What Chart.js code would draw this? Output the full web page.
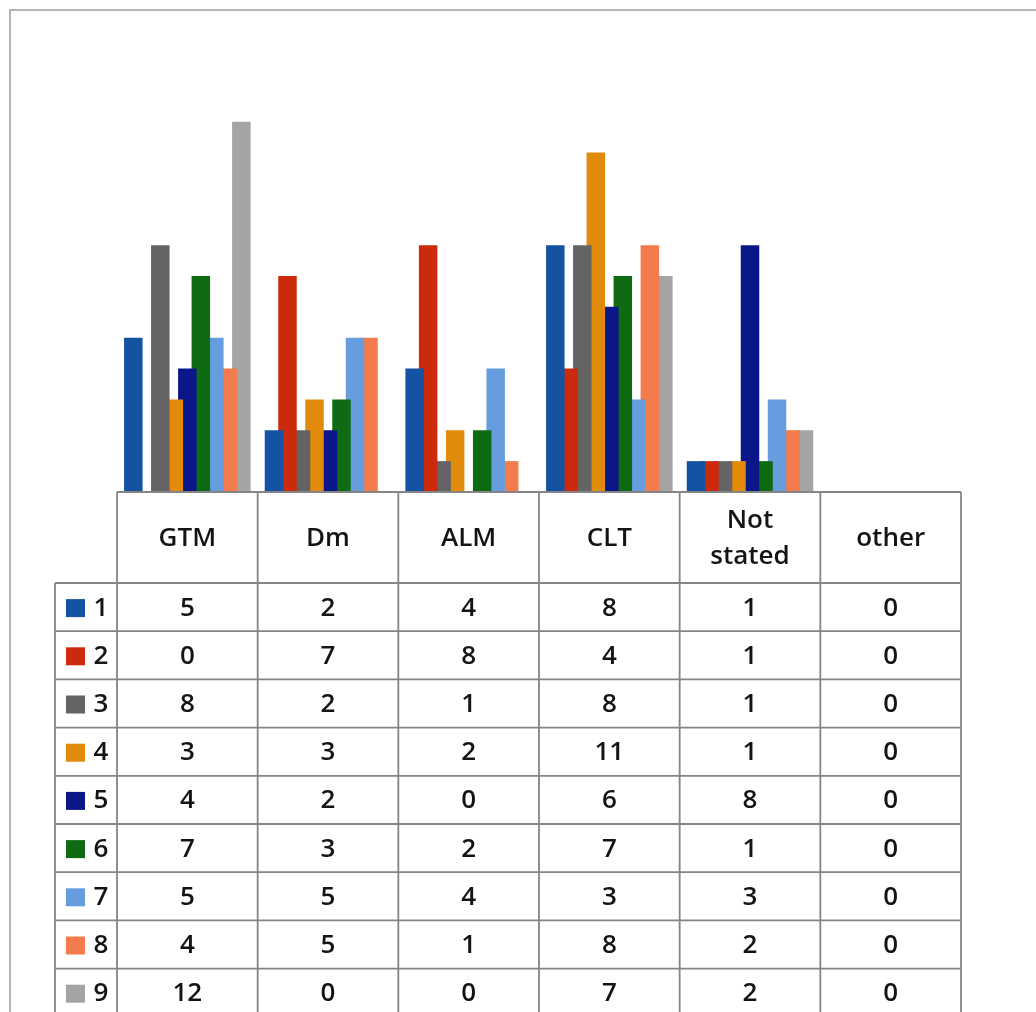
<!DOCTYPE html>
<html>
<head>
<meta charset="utf-8">
<script src="https://cdn.jsdelivr.net/npm/chart.js@4/dist/chart.umd.min.js"></script>
<style>
  html, body { margin: 0; padding: 0; background: #ffffff; }
  canvas { display: block; }
</style>
</head>
<body>
<canvas id="chart" width="1036" height="1012"></canvas>
<script>
// Teaching-method categories (columns of the data table)
const categories = ["GTM", "Dm", "ALM", "CLT", ["Not", "stated"], "other"];

// One series per respondent group, values per category
const seriesNames = ["1", "2", "3", "4", "5", "6", "7", "8", "9"];
const s1 = [5, 2, 4, 8, 1, 0];
const s2 = [0, 7, 8, 4, 1, 0];
const s3 = [8, 2, 1, 8, 1, 0];
const s4 = [3, 3, 2, 11, 1, 0];
const s5 = [4, 2, 0, 6, 8, 0];
const s6 = [7, 3, 2, 7, 1, 0];
const s7 = [5, 5, 4, 3, 3, 0];
const s8 = [4, 5, 1, 8, 2, 0];
const s9 = [12, 0, 0, 7, 2, 0];
const seriesValues = [s1, s2, s3, s4, s5, s6, s7, s8, s9];

const seriesColors = [
  "#1452a2", "#cc2a0c", "#646464", "#e28a0c", "#0b1688",
  "#0e6b14", "#679ddf", "#f47b4b", "#a4a4a4"
];

const FONT = "'Open Sans', 'DejaVu Sans', sans-serif";
const TEXT = "#141414";
const GRID = "#858585";

// Data table drawn under the plot, columns aligned to the category scale
const dataTablePlugin = {
  id: "dataTable",
  afterDraw(chart) {
    const ctx = chart.ctx;
    const x = chart.scales.x;
    const area = chart.chartArea;
    const n = categories.length;
    const step = (area.right - area.left) / n;
    const headTop = area.bottom;
    const headH = 91;
    const rowH = 48.2;
    const rowLeft = 55;
    const bottom = chart.height + 10;

    ctx.save();
    // outer frame
    ctx.strokeStyle = "#b4b4b4";
    ctx.lineWidth = 2;
    ctx.beginPath();
    ctx.moveTo(10, chart.height);
    ctx.lineTo(10, 10);
    ctx.lineTo(chart.width, 10);
    ctx.stroke();

    ctx.strokeStyle = GRID;
    ctx.lineWidth = 1.8;
    ctx.beginPath();
    // header top line
    ctx.moveTo(area.left, headTop);
    ctx.lineTo(area.right, headTop);
    // column separators
    for (let i = 0; i <= n; i++) {
      const cx = area.left + i * step;
      ctx.moveTo(cx, headTop);
      ctx.lineTo(cx, bottom);
    }
    // row-header column left edge
    ctx.moveTo(rowLeft, headTop + headH);
    ctx.lineTo(rowLeft, bottom);
    // row lines
    for (let r = 0; r < seriesNames.length; r++) {
      const ry = headTop + headH + r * rowH;
      ctx.moveTo(rowLeft, ry);
      ctx.lineTo(area.right, ry);
    }
    ctx.stroke();

    ctx.fillStyle = TEXT;
    ctx.textAlign = "center";
    ctx.textBaseline = "middle";
    ctx.font = "600 26px " + FONT;
    // column headers
    categories.forEach((label, i) => {
      const cx = x.getPixelForValue(i);
      const lines = Array.isArray(label) ? label : [label];
      const lh = 36;
      const cy = headTop + headH / 2 + 1;
      lines.forEach((ln, k) => {
        ctx.fillText(ln, cx, cy + (k - (lines.length - 1) / 2) * lh);
      });
    });

    // rows: legend key, series name, values
    seriesNames.forEach((name, r) => {
      const cy = headTop + headH + r * rowH + rowH / 2 + 1;
      ctx.fillStyle = seriesColors[r];
      ctx.fillRect(66, cy - 9, 19, 18);
      ctx.fillStyle = TEXT;
      ctx.textAlign = "center";
      ctx.fillText(name, 101, cy);
      seriesValues[r].forEach((v, i) => {
        ctx.fillText(String(v), x.getPixelForValue(i), cy);
      });
    });
    ctx.restore();
  }
};

new Chart(document.getElementById("chart"), {
  type: "bar",
  data: {
    labels: categories,
    datasets: seriesNames.map((name, i) => ({
      label: name,
      data: seriesValues[i],
      backgroundColor: seriesColors[i],
      borderWidth: 0,
      barPercentage: 1.37,
      categoryPercentage: 0.864
    }))
  },
  options: {
    responsive: false,
    animation: false,
    layout: { padding: { left: 117, right: 75, top: 60, bottom: 520 } },
    plugins: {
      legend: { display: false },
      tooltip: { enabled: false },
      title: { display: false }
    },
    scales: {
      x: { display: false, offset: true, grid: { display: false } },
      y: { display: false, min: 0, max: 14, grid: { display: false } }
    }
  },
  plugins: [dataTablePlugin]
});
</script>
</body>
</html>
